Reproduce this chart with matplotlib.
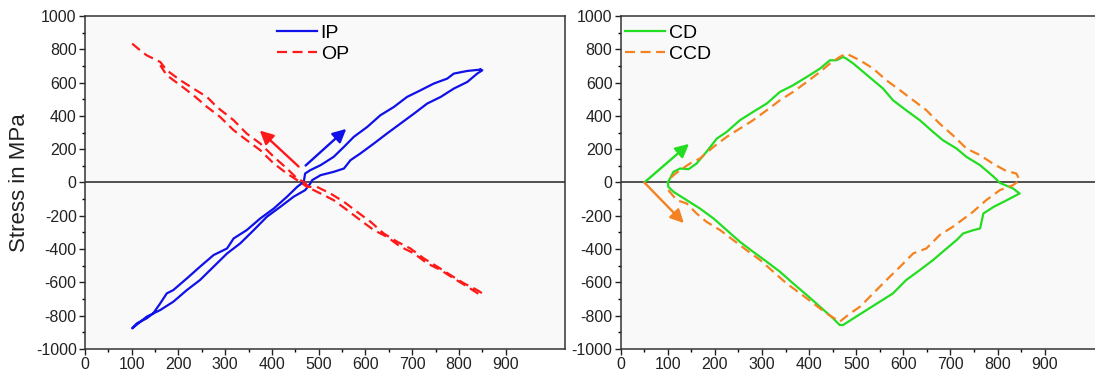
import numpy as np
import matplotlib
matplotlib.use("Agg")
import matplotlib.pyplot as plt
from matplotlib.ticker import MultipleLocator, FixedLocator

plt.rcParams["font.family"] = ["Liberation Sans", "DejaVu Sans"]
plt.rcParams["axes.unicode_minus"] = False

# IP (blue, solid) - closed narrow loop
ip_x = [846, 818, 789, 775, 746, 718, 689, 661, 632, 604, 575, 554, 532, 504, 482, 471, 468,
        454, 432, 404, 375, 346, 318, 304, 275, 246, 218, 189, 175, 161, 146, 132, 111, 101,
        132, 161, 189, 218, 246, 275, 304, 332, 361, 389, 418, 446, 471, 482,
        486, 504, 532, 554, 568, 589, 618, 646, 675, 704, 732, 761, 789, 818, 839, 850, 846]
ip_y = [678, 670, 654, 624, 594, 554, 514, 454, 404, 334, 274, 214, 154, 104, 74, 54, 4,
        -26, -86, -156, -216, -286, -336, -396, -436, -506, -576, -646, -666, -726, -786, -816, -846, -876,
        -806, -766, -716, -646, -586, -506, -426, -366, -286, -206, -146, -86, -46, -6,
        14, 44, 64, 84, 134, 174, 234, 294, 354, 414, 474, 514, 564, 604, 654, 674, 678]

# OP (red, dashed)
op_x = [101, 118, 132, 161, 175, 204, 232, 261, 282, 318, 346, 375, 404, 432, 454, 468,
        482, 504, 532, 561, 589, 618, 646, 675, 704, 732, 761, 789, 818, 846,
        850, 839, 811, 782, 754, 725, 696, 668, 639, 611, 582, 554, 525, 496, 475,
        454, 432, 404, 375, 346, 318, 289, 261, 232, 204, 175, 161]
op_y = [834, 794, 764, 724, 674, 614, 564, 514, 454, 374, 294, 234, 154, 84, 24, 4,
        -36, -66, -106, -166, -226, -286, -326, -386, -426, -486, -526, -576, -626, -676,
        -666, -646, -606, -556, -506, -456, -396, -356, -306, -236, -176, -116, -66, -26, -26,
        14, 54, 114, 194, 254, 314, 394, 454, 524, 584, 644, 704]

# CD (green, solid)
cd_x = [100, 112, 126, 144, 161, 182, 204, 225, 253, 281, 310, 338, 366, 395, 423, 444, 458, 472,
        479, 494, 515, 536, 557, 578, 606, 635, 663, 684, 713, 734, 763, 792, 805, 833, 847,
        840, 820, 792, 770, 763, 749, 727, 713, 692, 663, 635, 606, 578, 550, 522, 494, 472,
        465, 451, 423, 395, 366, 338, 310, 281, 253, 225, 197, 168, 140, 112, 101, 100]
cd_y = [0, 64, 84, 80, 114, 184, 264, 304, 374, 424, 474, 544, 584, 634, 684, 734, 734, 754,
        744, 714, 664, 614, 564, 494, 434, 374, 304, 254, 204, 154, 104, 34, -2, -36, -66,
        -76, -106, -146, -186, -276, -286, -306, -346, -396, -466, -526, -586, -666, -716, -766, -816, -856,
        -856, -816, -746, -676, -606, -536, -476, -416, -356, -286, -216, -156, -106, -56, -26, 0]

# CCD (orange, dashed)
ccd_x = [101, 119, 140, 161, 182, 211, 239, 267, 296, 324, 352, 381, 409, 437, 465,
         487, 508, 536, 564, 593, 621, 649, 677, 705, 734, 748, 776, 805, 833, 847,
         840, 818, 790, 763, 734, 705, 677, 649, 621, 593, 564, 536, 508, 479,
         465, 444, 423, 395, 366, 338, 310, 281, 253, 225, 197, 168, 147, 126, 112, 101]
ccd_y = [-46, -106, -126, -186, -236, -286, -346, -406, -466, -536, -606, -666, -726, -786, -836,
         -786, -746, -666, -586, -506, -426, -396, -316, -266, -206, -176, -106, -46, -16, 14,
         54, 70, 114, 164, 204, 284, 354, 434, 494, 554, 614, 684, 734, 774,
         754, 714, 664, 604, 544, 494, 434, 374, 324, 274, 214, 144, 114, 74, 44, 14]

# arrows: (tail x, tail y, head x, head y)
arrow_op = (457, 96, 374, 312)
arrow_ip = (472, 102, 559, 322)
arrow_cd = (50, 0, 145, 232)
arrow_ccd = (50, 0, 134, -244)

fig = plt.figure(figsize=(10.95, 3.78), dpi=100)
ax1 = fig.add_axes([0.0776, 0.0767, 0.438, 0.881])
ax2 = fig.add_axes([0.5669, 0.0767, 0.4331, 0.881])

bg = "#f9f9f9"
lw = 1.6
dash = (0, (4.5, 2.5))


def style_axes(ax, xmax, right_spine=True):
    ax.set_facecolor(bg)
    ax.set_xlim(0, xmax)
    ax.set_ylim(-1000, 1000)
    ax.set_xticks(np.arange(0, 901, 100))
    ax.xaxis.set_minor_locator(FixedLocator(np.arange(50, 900, 100)))
    ax.yaxis.set_major_locator(MultipleLocator(200))
    ax.yaxis.set_minor_locator(MultipleLocator(100))
    ax.tick_params(which="major", direction="out", length=4, width=1, labelsize=11.5,
                   colors="#222222", pad=2)
    ax.tick_params(which="minor", direction="out", length=2.5, width=1)
    for s in ax.spines.values():
        s.set_color("#333333")
        s.set_linewidth(1.1)
    ax.spines["right"].set_visible(right_spine)
    ax.axhline(0, color="#222222", lw=1.1, zorder=1)


style_axes(ax1, 1026)
style_axes(ax2, 1007, right_spine=False)

ax1.plot(ip_x, ip_y, color="#1010e8", lw=lw, label="IP", zorder=3)
ax1.plot(op_x, op_y, color="#ff1a1a", lw=lw, ls=dash, label="OP", zorder=3)
ax2.plot(cd_x, cd_y, color="#22dd22", lw=lw, label="CD", zorder=3)
ax2.plot(ccd_x, ccd_y, color="#f58220", lw=lw, ls=dash, label="CCD", zorder=3)


def draw_arrow(ax, a, color):
    ax.annotate("", xy=(a[2], a[3]), xytext=(a[0], a[1]),
                arrowprops=dict(arrowstyle="-|>", color=color, lw=1.7,
                                mutation_scale=20, shrinkA=0, shrinkB=0),
                zorder=4)


draw_arrow(ax1, arrow_op, "#ff1a1a")
draw_arrow(ax1, arrow_ip, "#1010e8")
draw_arrow(ax2, arrow_cd, "#22dd22")
draw_arrow(ax2, arrow_ccd, "#f58220")

ax1.set_ylabel("Stress in MPa", fontsize=16, color="#222222", labelpad=4)

leg_kw = dict(frameon=False, fontsize=14, handlelength=2.05, handletextpad=0.2,
              labelspacing=0.15, borderpad=0.2)
ax1.legend(loc="upper left", bbox_to_anchor=(0.372, 1.015), **leg_kw)
ax2.legend(loc="upper left", bbox_to_anchor=(-0.02, 1.015), **leg_kw)

fig.savefig("out.png", dpi=100)
